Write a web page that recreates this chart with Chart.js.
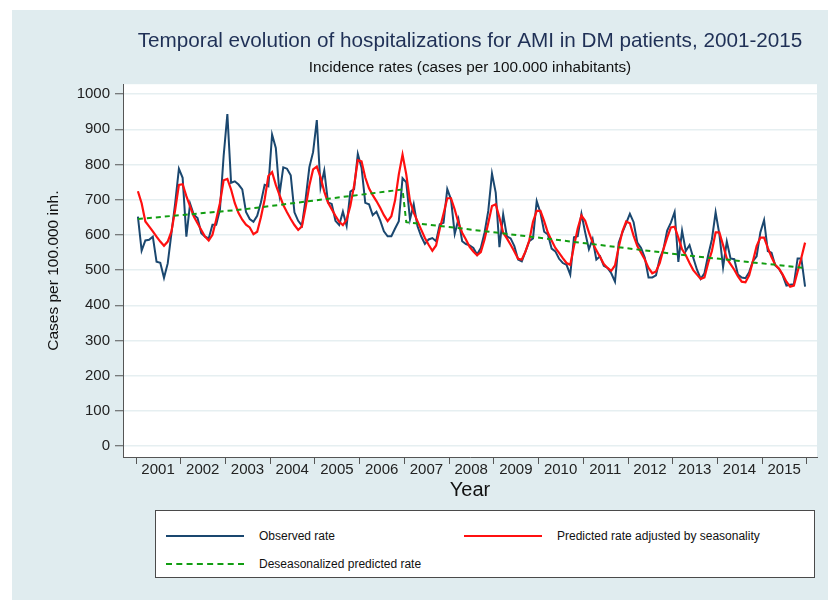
<!DOCTYPE html>
<html>
<head>
<meta charset="utf-8">
<title>AMI hospitalizations in DM patients</title>
<script src="https://cdn.jsdelivr.net/npm/chart.js@4.4.0/dist/chart.umd.min.js"></script>
<style>
    html, body { margin: 0; padding: 0; background: #fff; }
    #panel { position: absolute; left: 12px; top: 10px; width: 816px; height: 590px; background: #e0ecef; }
    #wrap { position: absolute; left: 0; top: 0; width: 828px; height: 607px; }
    .legend {
        position: absolute; left: 155px; top: 510px; width: 658px; height: 66px;
        background: #fff; border: 1.5px solid #4a4a4a;
        font-family: 'Liberation Sans', Arial, sans-serif;
        font-size: 12px; color: #111;
    }
    .item { position: absolute; height: 16px; display: flex; align-items: center; white-space: nowrap; }
    .swatch { width: 78px; height: 0; margin-right: 15px; }
</style>
</head>
<body>
<div id="panel"></div>
<div id="wrap">
    <canvas id="amiChart" width="828" height="607"></canvas>
    <div class="legend">
        <div class="item" style="left:10px; top:17px;"><span class="swatch" style="border-top:2px solid #1a476f;"></span>Observed rate</div>
        <div class="item" style="left:308px; top:17px;"><span class="swatch" style="border-top:2px solid #ff1010;"></span>Predicted rate adjusted by seasonality</div>
        <div class="item" style="left:10px; top:45px;"><span class="swatch" style="border-top:2px dashed #119d11;"></span>Deseasonalized predicted rate</div>
    </div>
</div>
<script>
// Monthly series, Jan 2001 - Dec 2015 (one row per year)
const years = [2001, 2002, 2003, 2004, 2005, 2006, 2007, 2008, 2009, 2010, 2011, 2012, 2013, 2014, 2015];

const observedRate = [
    652, 555, 584, 586, 595, 524, 521, 478, 519, 605, 690, 788,
    762, 595, 689, 657, 648, 605, 595, 590, 629, 629, 671, 824,
    943, 748, 752, 743, 729, 665, 645, 637, 654, 692, 742, 738,
    885, 847, 716, 792, 788, 769, 664, 640, 626, 702, 792, 835,
    926, 735, 783, 692, 688, 640, 628, 666, 626, 723, 730, 830,
    791, 691, 687, 656, 666, 641, 610, 596, 596, 618, 639, 761,
    749, 644, 687, 625, 596, 574, 587, 591, 582, 630, 634, 730,
    701, 603, 644, 582, 574, 570, 563, 544, 563, 606, 668, 774,
    720, 565, 658, 596, 590, 568, 530, 525, 553, 582, 590, 696,
    663, 609, 601, 561, 553, 532, 520, 515, 487, 593, 596, 660,
    607, 559, 588, 530, 539, 512, 506, 491, 467, 578, 607, 633,
    660, 636, 578, 563, 535, 479, 479, 485, 533, 559, 612, 635,
    665, 523, 612, 554, 571, 535, 501, 475, 491, 542, 587, 664,
    602, 508, 581, 533, 531, 487, 479, 477, 494, 525, 539, 607,
    642, 554, 549, 513, 504, 485, 456, 458, 460, 533, 533, 453
];

const predictedRate = [
    724, 690, 638, 624, 610, 595, 581, 569, 581, 610, 671, 742,
    744, 710, 681, 652, 633, 614, 595, 584, 600, 643, 690, 755,
    759, 729, 690, 662, 643, 629, 621, 602, 609, 650, 700, 767,
    778, 742, 713, 685, 664, 645, 628, 614, 624, 678, 740, 786,
    794, 764, 723, 692, 673, 654, 637, 628, 643, 683, 740, 812,
    809, 763, 732, 713, 696, 677, 656, 639, 653, 698, 772, 828,
    772, 696, 663, 639, 615, 591, 572, 555, 570, 618, 660, 704,
    704, 672, 634, 606, 587, 566, 553, 542, 551, 587, 634, 682,
    687, 649, 606, 590, 572, 553, 532, 530, 553, 584, 637, 668,
    668, 639, 606, 584, 563, 549, 534, 520, 515, 568, 618, 655,
    640, 607, 578, 556, 537, 517, 506, 498, 513, 565, 610, 638,
    633, 597, 568, 549, 530, 506, 491, 496, 520, 559, 592, 621,
    623, 592, 559, 542, 520, 500, 487, 475, 479, 520, 554, 607,
    607, 571, 533, 517, 501, 482, 467, 465, 485, 525, 568, 592,
    592, 563, 537, 515, 504, 487, 467, 453, 456, 496, 535, 578
];

// Deseasonalized trend, read at a few months (month 0 = Jan 2001)
const trendMonth = [0, 28, 59, 71, 72, 87, 117, 147, 179];
const trendRate = [645, 672, 713, 729, 636, 618, 580, 542, 506];

const yTicks = [0, 100, 200, 300, 400, 500, 600, 700, 800, 900, 1000];

const monthIndex = observedRate.map((v, i) => i);
const sans = "'Liberation Sans', Arial, sans-serif";

// paint the white plot region
const plotBackground = {
    id: 'plotBackground',
    beforeDraw(chart) {
        const { ctx, chartArea } = chart;
        ctx.save();
        ctx.fillStyle = '#ffffff';
        ctx.fillRect(chartArea.left, chartArea.top, chartArea.right - chartArea.left, chartArea.bottom - chartArea.top);
        ctx.restore();
    }
};

const amiChart = new Chart(document.getElementById('amiChart').getContext('2d'), {
    type: 'line',
    data: {
        labels: monthIndex,
        datasets: [{
            label: 'Deseasonalized predicted rate',
            data: trendMonth.map((m, i) => ({ x: m, y: trendRate[i] })),
            borderColor: '#119d11',
            borderWidth: 2,
            borderDash: [5, 4],
            pointRadius: 0,
            order: 1
        }, {
            label: 'Predicted rate adjusted by seasonality',
            data: predictedRate,
            borderColor: '#ff1010',
            borderWidth: 2.2,
            pointRadius: 0,
            order: 2
        }, {
            label: 'Observed rate',
            data: observedRate,
            borderColor: '#1a476f',
            borderWidth: 2,
            pointRadius: 0,
            order: 3
        }]
    },
    options: {
        responsive: false,
        animation: false,
        layout: { padding: { top: 0, left: 0, right: 11, bottom: 105 } },
        plugins: {
            legend: { display: false },
            tooltip: { enabled: false },
            title: {
                display: true,
                fullSize: false,
                text: 'Temporal evolution of hospitalizations for AMI in DM patients, 2001-2015',
                color: '#1f3056',
                font: { family: sans, size: 20.7, weight: 'normal' },
                padding: { top: 29, bottom: 2 }
            },
            subtitle: {
                display: true,
                fullSize: false,
                text: 'Incidence rates (cases per 100.000 inhabitants)',
                color: '#111',
                font: { family: sans, size: 15.3, weight: 'normal' },
                padding: { top: 3, bottom: 7 }
            }
        },
        scales: {
            x: {
                type: 'linear',
                min: -4,
                max: 182.2,
                afterBuildTicks: s => { s.ticks = years.concat([2016]).map(y => ({ value: (y - 2001) * 12 - 0.5 })); },
                afterFit: s => { s.height = 45; },
                grid: { drawOnChartArea: false, drawTicks: true, tickLength: 7, color: '#555', tickColor: '#555' },
                border: { display: true, color: '#555', width: 1 },
                ticks: {
                    autoSkip: false,
                    maxRotation: 0,
                    labelOffset: 22,
                    padding: -3,
                    color: '#222',
                    font: { family: sans, size: 15 },
                    callback: v => {
                        const y = 2001 + Math.round((v + 0.5) / 12);
                        return y <= 2015 ? String(y) : '';
                    }
                },
                title: { display: true, text: 'Year', color: '#111', font: { family: sans, size: 20 }, padding: 0 }
            },
            y: {
                min: -31,
                max: 1028,
                afterBuildTicks: s => { s.ticks = yTicks.map(v => ({ value: v })); },
                afterFit: s => { s.width = 123; },
                grid: { color: '#e6eff1', lineWidth: 1.5, tickColor: '#555', tickLength: 8, tickWidth: 1 },
                border: { color: '#555', width: 1 },
                ticks: { padding: 5, color: '#222', font: { family: sans, size: 15 }, callback: v => String(v) },
                title: {
                    display: true,
                    text: 'Cases per 100.000 inh.',
                    color: '#111',
                    font: { family: sans, size: 15.5 },
                    padding: { top: 44 }
                }
            }
        }
    },
    plugins: [plotBackground]
});
</script>
</body>
</html>
